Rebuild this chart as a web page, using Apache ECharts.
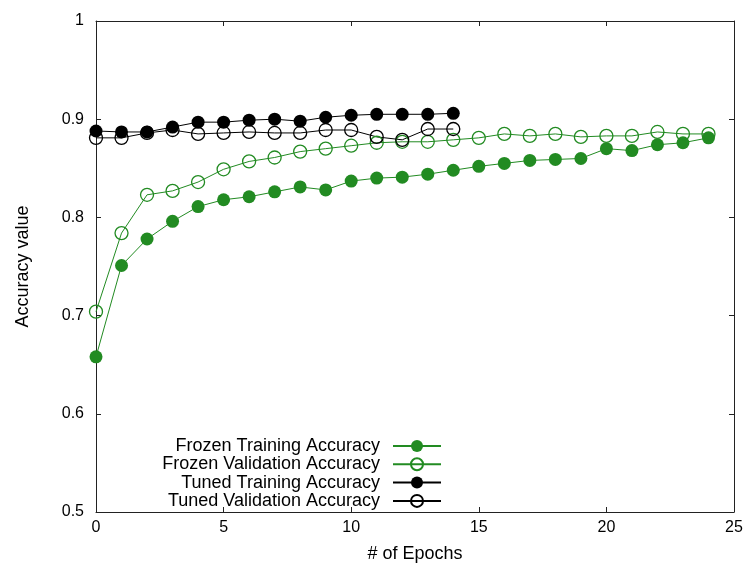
<!DOCTYPE html>
<html>
<head>
<meta charset="utf-8">
<script src="https://cdn.jsdelivr.net/npm/echarts@6/dist/echarts.min.js"></script>
<style>
html,body{margin:0;padding:0;background:#fff;}
#chart{width:748px;height:568px;}
</style>
</head>
<body>
<div id="chart"></div>
<script>
const epochsFrozen = [0,1,2,3,4,5,6,7,8,9,10,11,12,13,14,15,16,17,18,19,20,21,22,23,24];
const epochsTuned = [0,1,2,3,4,5,6,7,8,9,10,11,12,13,14];
const frozenTraining = [0.658,0.751,0.778,0.796,0.811,0.818,0.821,0.826,0.831,0.828,0.837,0.840,0.841,0.844,0.848,0.852,0.855,0.858,0.859,0.860,0.870,0.868,0.874,0.876,0.881];
const frozenValidation = [0.704,0.784,0.823,0.827,0.836,0.849,0.857,0.861,0.867,0.870,0.873,0.876,0.877,0.877,0.879,0.881,0.885,0.883,0.885,0.882,0.883,0.883,0.887,0.885,0.885];
const tunedTraining = [0.888,0.887,0.887,0.892,0.897,0.897,0.899,0.900,0.898,0.902,0.904,0.905,0.905,0.905,0.906];
const tunedValidation = [0.881,0.881,0.886,0.889,0.885,0.886,0.887,0.886,0.886,0.889,0.889,0.882,0.879,0.890,0.890];
const seriesNames = ['Frozen Training Accuracy','Frozen Validation Accuracy','Tuned Training Accuracy','Tuned Validation Accuracy'];

const GREEN = '#228b22';
const BLACK = '#000000';
const AXIS = '#222222';
const FONT = 'Liberation Sans';

function pairs(xs, ys){ return xs.map((x,i)=>[x, ys[i]]); }

function mkSeries(name, xs, ys, color, filled){
  return {
    name: name,
    type: 'line',
    data: pairs(xs, ys),
    symbol: 'circle',
    symbolSize: 13,
    lineStyle: {color: color, width: 1},
    itemStyle: filled
      ? {color: color, borderColor: color, borderWidth: 0}
      : {color: 'rgba(255,255,255,0)', borderColor: color, borderWidth: 1.3},
    emphasis: {disabled: true},
    z: 2
  };
}

const chart = echarts.init(document.getElementById('chart'), null, {renderer: 'canvas'});
const tickInside = {show: true, inside: true, length: 5, lineStyle: {color: AXIS}};
chart.setOption({
  animation: false,
  backgroundColor: '#fff',
  textStyle: {fontFamily: FONT},
  grid: {left: 96, right: 14, top: 21, bottom: 55, containLabel: false},
  legend: {
    orient: 'vertical',
    align: 'right',
    right: 306,
    top: 437,
    padding: 0,
    itemWidth: 48,
    itemHeight: 15,
    itemGap: 0.3,
    selectedMode: false,
    data: seriesNames,
    textStyle: {fontFamily: FONT, fontSize: 18, color: '#000', padding: [0, 8, 0, 0]}
  },
  xAxis: [{
    type: 'value', min: 0, max: 25, interval: 5, position: 'bottom',
    name: '# of Epochs', nameLocation: 'middle', nameGap: 33,
    nameTextStyle: {fontFamily: FONT, fontSize: 18, color: '#000'},
    axisLine: {show: true, onZero: false, lineStyle: {color: AXIS, width: 1}},
    axisTick: tickInside,
    axisLabel: {fontFamily: FONT, fontSize: 16, color: '#000', margin: 8},
    splitLine: {show: false}
  },{
    type: 'value', min: 0, max: 25, interval: 5, position: 'top',
    axisLine: {show: true, onZero: false, lineStyle: {color: AXIS, width: 1}},
    axisTick: tickInside,
    axisLabel: {show: false},
    splitLine: {show: false}
  }],
  yAxis: [{
    type: 'value', min: 0.5, max: 1, interval: 0.1, position: 'left',
    name: 'Accuracy value', nameLocation: 'middle', nameGap: 64, nameRotate: 90,
    nameTextStyle: {fontFamily: FONT, fontSize: 18, color: '#000'},
    axisLine: {show: true, onZero: false, lineStyle: {color: AXIS, width: 1}},
    axisTick: tickInside,
    axisLabel: {fontFamily: FONT, fontSize: 16, color: '#000', margin: 12,
      formatter: v => String(parseFloat(v.toFixed(1)))},
    splitLine: {show: false}
  },{
    type: 'value', min: 0.5, max: 1, interval: 0.1, position: 'right',
    axisLine: {show: true, onZero: false, lineStyle: {color: AXIS, width: 1}},
    axisTick: tickInside,
    axisLabel: {show: false},
    splitLine: {show: false}
  }],
  series: [
    mkSeries(seriesNames[0], epochsFrozen, frozenTraining, GREEN, true),
    mkSeries(seriesNames[1], epochsFrozen, frozenValidation, GREEN, false),
    mkSeries(seriesNames[2], epochsTuned, tunedTraining, BLACK, true),
    mkSeries(seriesNames[3], epochsTuned, tunedValidation, BLACK, false)
  ]
});
</script>
</body>
</html>
